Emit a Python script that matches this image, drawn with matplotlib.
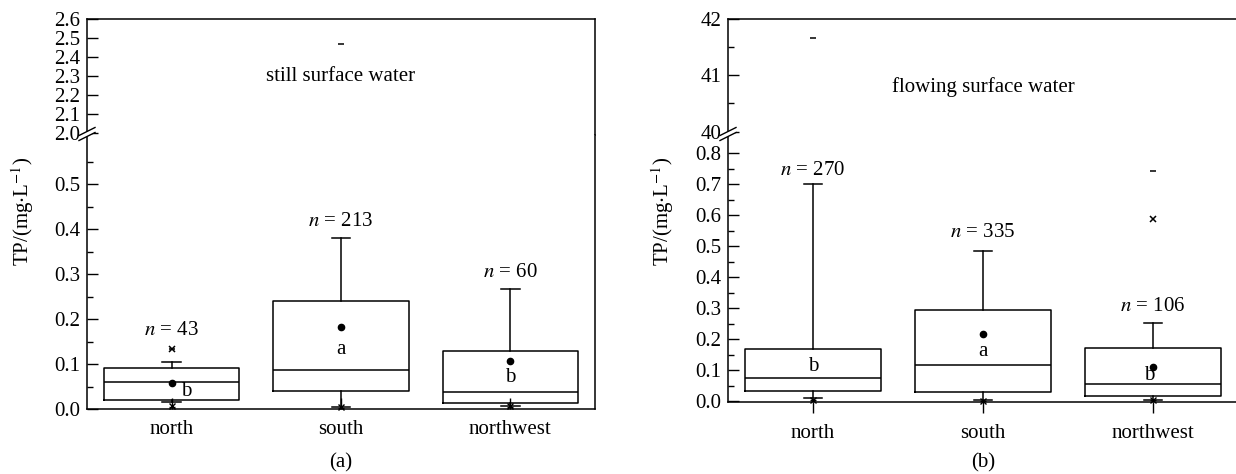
# TP boxplots for still / flowing surface water, two panels with broken y axes
import numpy as np
import matplotlib
matplotlib.use("Agg")
import matplotlib.pyplot as plt
from matplotlib.lines import Line2D
from matplotlib.patches import Polygon

plt.rcParams["font.family"] = ["Liberation Serif", "DejaVu Serif"]
plt.rcParams["mathtext.fontset"] = "stix"
plt.rcParams["font.size"] = 15

# ── DATA ──────────────────────────────────────────────────────────────────────

REGIONS = ["north", "south", "northwest"]
NAN = np.nan

# (a) still surface water
A_N      = [43, 213, 60]
A_WLO    = [0.015, 0.005, 0.007]
A_Q1     = [0.019, 0.041, 0.013]
A_MED    = [0.059, 0.087, 0.037]
A_Q3     = [0.092, 0.239, 0.130]
A_WHI    = [0.104, 0.379, 0.266]
A_MEAN   = [0.058, 0.182, 0.106]
A_P1     = [0.007, 0.004, 0.006]
A_P99    = [0.133, NAN, NAN]
A_MIN    = [0.005, 0.003, 0.005]
A_MAX    = [0.133, 2.47, NAN]
A_LETTER = ["b", "a", "b"]
A_LET_Y  = [0.038, 0.133, 0.070]
A_N_Y    = [0.175, 0.416, 0.304]

# (b) flowing surface water
B_N      = [270, 335, 106]
B_WLO    = [0.012, 0.003, 0.005]
B_Q1     = [0.033, 0.029, 0.018]
B_MED    = [0.074, 0.117, 0.056]
B_Q3     = [0.169, 0.294, 0.173]
B_WHI    = [0.701, 0.484, 0.253]
B_MEAN   = [NAN, 0.216, 0.111]
B_P1     = [0.005, 0.002, 0.004]
B_P99    = [NAN, NAN, 0.589]
B_MIN    = [0.004, 0.002, 0.003]
B_MAX    = [41.67, NAN, 0.742]
B_LETTER = ["b", "a", "b"]
B_LET_Y  = [0.111, 0.162, 0.082]
B_N_Y    = [0.745, 0.544, 0.307]

W, H = 1236, 474


def px_rect(left, right, top, bottom):
    return [left / W, 1 - bottom / H, (right - left) / W, (bottom - top) / H]


def break_mark(fig, x, y):
    """Draw the '//' axis-break symbol on the left spine at pixel (x, y)."""
    dx, dy, gap = 8, 4, 2.5
    fx = lambda v: v / W
    fy = lambda v: 1 - v / H
    poly = Polygon([(fx(x - dx), fy(y + dy - gap)), (fx(x + dx), fy(y - dy - gap)),
                    (fx(x + dx), fy(y - dy + gap)), (fx(x - dx), fy(y + dy + gap))],
                   closed=True, transform=fig.transFigure, facecolor="white",
                   edgecolor="none", zorder=5)
    fig.add_artist(poly)
    for off in (-gap, gap):
        fig.add_artist(Line2D([fx(x - dx), fx(x + dx)],
                              [fy(y + dy + off), fy(y - dy + off)],
                              transform=fig.transFigure, color="k", lw=1.0, zorder=6))


def draw_panel(ax_hi, ax_lo, d, title, title_y, xtick_dir):
    pos = np.arange(1, 4)
    stats = []
    for i in range(3):
        stats.append(dict(med=d["med"][i], q1=d["q1"][i], q3=d["q3"][i],
                          whislo=d["wlo"][i], whishi=d["whi"][i], fliers=[]))
    lw = 1.1
    ax_lo.bxp(stats, positions=pos, widths=0.8, capwidths=0.11,
              boxprops=dict(color="k", lw=lw), medianprops=dict(color="k", lw=lw),
              whiskerprops=dict(color="k", lw=lw), capprops=dict(color="k", lw=lw),
              showfliers=False)

    for ax in (ax_hi, ax_lo):
        ax.plot(pos, d["mean"], "o", color="k", ms=4.5, ls="none", clip_on=False)
        ax.plot(pos, d["p1"], "x", color="k", ms=5, mew=1.0, ls="none", clip_on=False)
        ax.plot(pos, d["p99"], "x", color="k", ms=5, mew=1.1, ls="none")
        ax.plot(pos, d["min"], "_", color="k", ms=5, mew=1.0, ls="none", clip_on=False)
        ax.plot(pos, d["max"], "_", color="k", ms=5, mew=1.1, ls="none")
        ax.set_xlim(0.5, 3.5)

    for i in range(3):
        ax_lo.text(pos[i] + d["let_dx"][i], d["let_y"][i], d["letter"][i],
                   ha="center", va="center")
        ax_lo.text(pos[i], d["n_y"][i], f"$n$ = {d['n'][i]}", ha="center", va="center")
    ax_hi.text(2, title_y, title, ha="center", va="center")

    # frame: continuous except at the break
    ax_hi.spines["bottom"].set_visible(False)
    ax_lo.spines["top"].set_visible(False)
    for ax in (ax_hi, ax_lo):
        for s in ax.spines.values():
            s.set_linewidth(1.1)
        ax.tick_params(axis="y", which="both", direction="in", pad=5, width=1.0)
        ax.tick_params(axis="y", which="major", length=8)
        ax.tick_params(axis="y", which="minor", length=4.5)
        ax.tick_params(axis="y", right=False)
    ax_hi.tick_params(axis="x", bottom=False, top=False, labelbottom=False)
    ax_lo.set_xticks(pos)
    ax_lo.set_xticklabels(REGIONS)
    ax_lo.tick_params(axis="x", direction=xtick_dir, length=8, width=1.0, pad=8, top=False)


fig = plt.figure(figsize=(W / 100, H / 100), dpi=100)

# ── PANEL (a) ────────────────────────────────────────────────────────────────
a_hi = fig.add_axes(px_rect(87, 595, 19, 135))
a_lo = fig.add_axes(px_rect(87, 595, 135, 409))
draw_panel(a_hi, a_lo,
           dict(n=A_N, wlo=A_WLO, q1=A_Q1, med=A_MED, q3=A_Q3, whi=A_WHI, mean=A_MEAN,
                p1=A_P1, p99=A_P99, min=A_MIN, max=A_MAX, letter=A_LETTER,
                let_y=A_LET_Y, let_dx=[0.085, 0, 0], n_y=A_N_Y),
           "still surface water", 2.295, "in")
a_hi.set_ylim(1.9895, 2.6)
a_hi.set_yticks(np.round(np.arange(2.0, 2.61, 0.1), 1))
a_hi.set_yticklabels([f"{v:.1f}" for v in np.arange(2.0, 2.61, 0.1)])
a_lo.set_ylim(0, 0.609)
a_lo.set_yticks(np.round(np.arange(0, 0.51, 0.1), 1))
a_lo.set_yticklabels([f"{v:.1f}" for v in np.arange(0, 0.51, 0.1)])
a_lo.set_yticks(np.round(np.arange(0.05, 0.56, 0.1), 2), minor=True)
break_mark(fig, 87, 134)

# ── PANEL (b) ────────────────────────────────────────────────────────────────
b_hi = fig.add_axes(px_rect(728, 1238, 19, 135))
b_lo = fig.add_axes(px_rect(728, 1238, 135, 402))
draw_panel(b_hi, b_lo,
           dict(n=B_N, wlo=B_WLO, q1=B_Q1, med=B_MED, q3=B_Q3, whi=B_WHI, mean=B_MEAN,
                p1=B_P1, p99=B_P99, min=B_MIN, max=B_MAX, letter=B_LETTER,
                let_y=B_LET_Y, let_dx=[0, 0, -0.02], n_y=B_N_Y),
           "flowing surface water", 40.8, "out")
b_hi.set_ylim(39.94, 42)
b_hi.set_yticks([40, 41, 42])
b_hi.set_yticks([40.5, 41.5], minor=True)
b_lo.set_ylim(-0.002, 0.858)
b_lo.set_yticks(np.round(np.arange(0, 0.81, 0.1), 1))
b_lo.set_yticklabels([f"{v:.1f}" for v in np.arange(0, 0.81, 0.1)])
b_lo.set_yticks(np.round(np.arange(0.05, 0.76, 0.1), 2), minor=True)
break_mark(fig, 728, 134)

# axis labels and panel tags
ylab = r"TP/(mg$\cdot$L$^{-1}$)"
fig.text(23 / W, 1 - 211 / H, ylab, rotation=90, ha="center", va="center")
fig.text(663 / W, 1 - 211 / H, ylab, rotation=90, ha="center", va="center")
fig.text(341 / W, 1 - 463 / H, "(a)", ha="center", va="center")
fig.text(983 / W, 1 - 463 / H, "(b)", ha="center", va="center")

fig.savefig("out.png", dpi=100)
